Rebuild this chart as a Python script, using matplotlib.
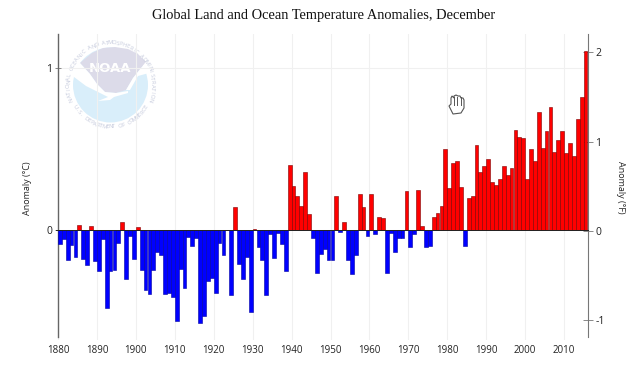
import numpy as np
import matplotlib
matplotlib.use("Agg")
import matplotlib.pyplot as plt
from matplotlib.patches import Circle, Polygon
from matplotlib.transforms import Affine2D

start_year = 1880
anomaly_c = [
 -0.086,-0.055,-0.18,-0.09,-0.163,0.037,-0.175,-0.21,0.027,-0.19,
 -0.25,-0.05,-0.48,-0.25,-0.243,-0.076,0.05,-0.30,-0.035,-0.175,
 0.023,-0.243,-0.368,-0.39,-0.243,-0.134,-0.152,-0.395,-0.385,-0.41,
 -0.56,-0.24,-0.354,-0.04,-0.097,-0.045,-0.57,-0.53,-0.313,-0.296,
 -0.385,-0.08,-0.152,0.006,-0.40,0.144,-0.206,-0.30,-0.163,-0.50,
 0.01,-0.10,-0.18,-0.40,-0.02,-0.17,-0.015,-0.086,-0.25,0.407,
 0.274,0.212,0.154,0.36,0.10,-0.045,-0.263,-0.144,-0.113,-0.183,
 -0.18,0.216,-0.008,0.053,-0.185,-0.27,-0.152,0.226,0.144,-0.037,
 0.226,-0.02,0.086,0.076,-0.265,-0.016,-0.13,-0.047,-0.047,0.243,
 -0.10,-0.02,0.247,0.027,-0.10,-0.095,0.086,0.11,0.15,0.50,
 0.26,0.418,0.432,0.27,-0.093,0.198,0.21,0.527,0.36,0.397,
 0.44,0.30,0.28,0.315,0.40,0.34,0.383,0.62,0.576,0.572,
 0.315,0.504,0.432,0.732,0.508,0.617,0.763,0.486,0.558,0.613,
 0.48,0.54,0.459,0.69,0.823,1.11]
decade_ticks = list(range(1880, 2011, 10))
left_ticks = [0, 1]
right_ticks = [-1, 0, 1, 2]
title = "Global Land and Ocean Temperature Anomalies, December"

W, H = 640, 365
fig = plt.figure(figsize=(W/100, H/100), dpi=100)
L, R, T, B = 58, 587.5, 34, 340
ax = fig.add_axes([L/W, 1-B/H, (R-L)/W, (B-T)/H])
y0_px, px_per_c = 230.5, 162
ax.set_xlim(1880, 2016)
ybot, ytop = (y0_px-B)/px_per_c, (y0_px-T)/px_per_c
ax.set_ylim(ybot, ytop)
years = start_year + np.arange(len(anomaly_c))
vals = np.array(anomaly_c)
colors = ['#ff0000' if v >= 0 else '#0000ff' for v in vals]
edges = ['#7a0000' if v >= 0 else '#0000a0' for v in vals]
fig.patch.set_facecolor('white')

ax.set_axisbelow(True)
ax.set_xticks(decade_ticks)
ax.set_xticklabels([str(y) for y in decade_ticks], fontsize=7, family='Open Sans', color='#222222')
ax.set_yticks(left_ticks)
ax.set_yticklabels([str(t) for t in left_ticks], fontsize=7.5, family='Open Sans', color='#222222')
ax.grid(True, color='#f0f0f0', lw=0.8)
ax.tick_params(axis='x', length=0, pad=3.5)
ax.tick_params(axis='y', length=5, width=0.7, color='#888888', direction='inout', pad=1.5)
for s in ('top', 'bottom'):
    ax.spines[s].set_visible(False)
stop = ybot + 3/px_per_c
ax.spines['left'].set_color('#666666')
ax.spines['left'].set_linewidth(1)
ax.spines['left'].set_bounds(stop, ytop)
ax.spines['right'].set_visible(False)

# NOAA logo (pixel coordinates)
px = Affine2D().scale(1, -1).translate(0, H)
def P(pts, **k):
    fig.add_artist(Polygon(pts, closed=True, transform=px, lw=0, **k))
cx, cy, rad = 110.5, 85, 37.5
fig.add_artist(Circle((cx, cy), rad, transform=px, fc='#d9eefa', ec='none', zorder=1))
P([(80,63),(86,58),(92,53),(103,48),(115,47),(128,49),(138,54),(146,62),(141,68),(133,78),(126,90),
  (116,93),(105,92),(97,84),(90,74)], fc='#dcdbe9', zorder=1.1)
P([(70,74),(74,65),(80,63),(90,74),(97,84),(105,92),(116,93),(128,91),(128,93),(114,97),(110,100),(98,101),(108,97),(100,93),(86,86)], fc='white', zorder=1.2)
P([(146,62),(150,70),(149,73),(138,76),(130,90),(126,90),(133,78),(141,68)], fc='white', zorder=1.2)
fig.text(110/W, 1-68/H, "NOAA", color='white', fontsize=9.5, fontweight='bold', family='DejaVu Sans',
         ha='center', va='center', zorder=1.3)
def arc_text(s, a0, a1, r, flip=False):
    for ch, a in zip(s, np.linspace(a0, a1, len(s))):
        x, y = cx + r*np.cos(np.radians(a)), cy - r*np.sin(np.radians(a))
        rot = a-90 if not flip else a+90
        fig.text(x/W, 1-y/H, ch, fontsize=4.2, color='#c6cbdd', family='Open Sans',
                 rotation=rot, rotation_mode='anchor', ha='center', va='center', zorder=1.3)
arc_text("NATIONAL OCEANIC AND ATMOSPHERIC ADMINISTRATION", 200, -20, 42)
arc_text("U.S. DEPARTMENT OF COMMERCE", 212, 328, 42, flip=True)

ax.set_zorder(3)
ax.patch.set_alpha(0)
ax.bar(years, vals, width=0.98, align='edge', color=colors, edgecolor=edges, linewidth=0.4, zorder=3)
ax.plot([1879.4, 2016], [0, 0], color='#222222', lw=0.7, zorder=4, clip_on=False)

ax2 = ax.twinx()
ax2.set_zorder(2)
ax2.set_ylim(-(B-231)/89.3, (231-T)/89.3)
ax2.set_yticks(right_ticks)
ax2.set_yticklabels(['-1', '0', '1', '2'], fontsize=7.5, family='Open Sans', color='#222222')
ax2.tick_params(axis='y', length=7, width=0.7, color='#888888', direction='inout', pad=2)
for s in ('top', 'bottom', 'left'):
    ax2.spines[s].set_visible(False)
ax2.spines['right'].set_color('#777777')
ax2.spines['right'].set_bounds(-(337-231)/89.3, (231-T)/89.3)

fig.text(323.5/W, 1-16/H, title, fontsize=10.4, family='Liberation Serif', ha='center', va='center', color='#111111')
fig.text(27/W, 1-188/H, "Anomaly (\u00b0C)", fontsize=6.5, family='Open Sans', rotation=90, ha='center', va='center', color='#222222')
fig.text(620/W, 1-187/H, "Anomaly (\u00b0F)", fontsize=6.5, family='Open Sans', rotation=270, ha='center', va='center', color='#222222')

# Hand cursor
hand = [(449,106),(451,104),(451,98),(452,96),(454,98),(454,96),(456,95),(458,96),(460,96),(461,98),(463,98),(464,100),
        (464,108),(461,113),(453,114),(451,110)]
P(hand, fc='white', zorder=5)
fig.add_artist(Polygon(hand, closed=True, transform=px, fc='none', ec='#555555', lw=0.8, zorder=5.1))
for xh in (454, 457, 460.5):
    fig.add_artist(plt.Line2D([xh, xh], [97, 105], transform=px, color='#555555', lw=0.7, zorder=5.2))

fig.savefig('out.png', dpi=100)
